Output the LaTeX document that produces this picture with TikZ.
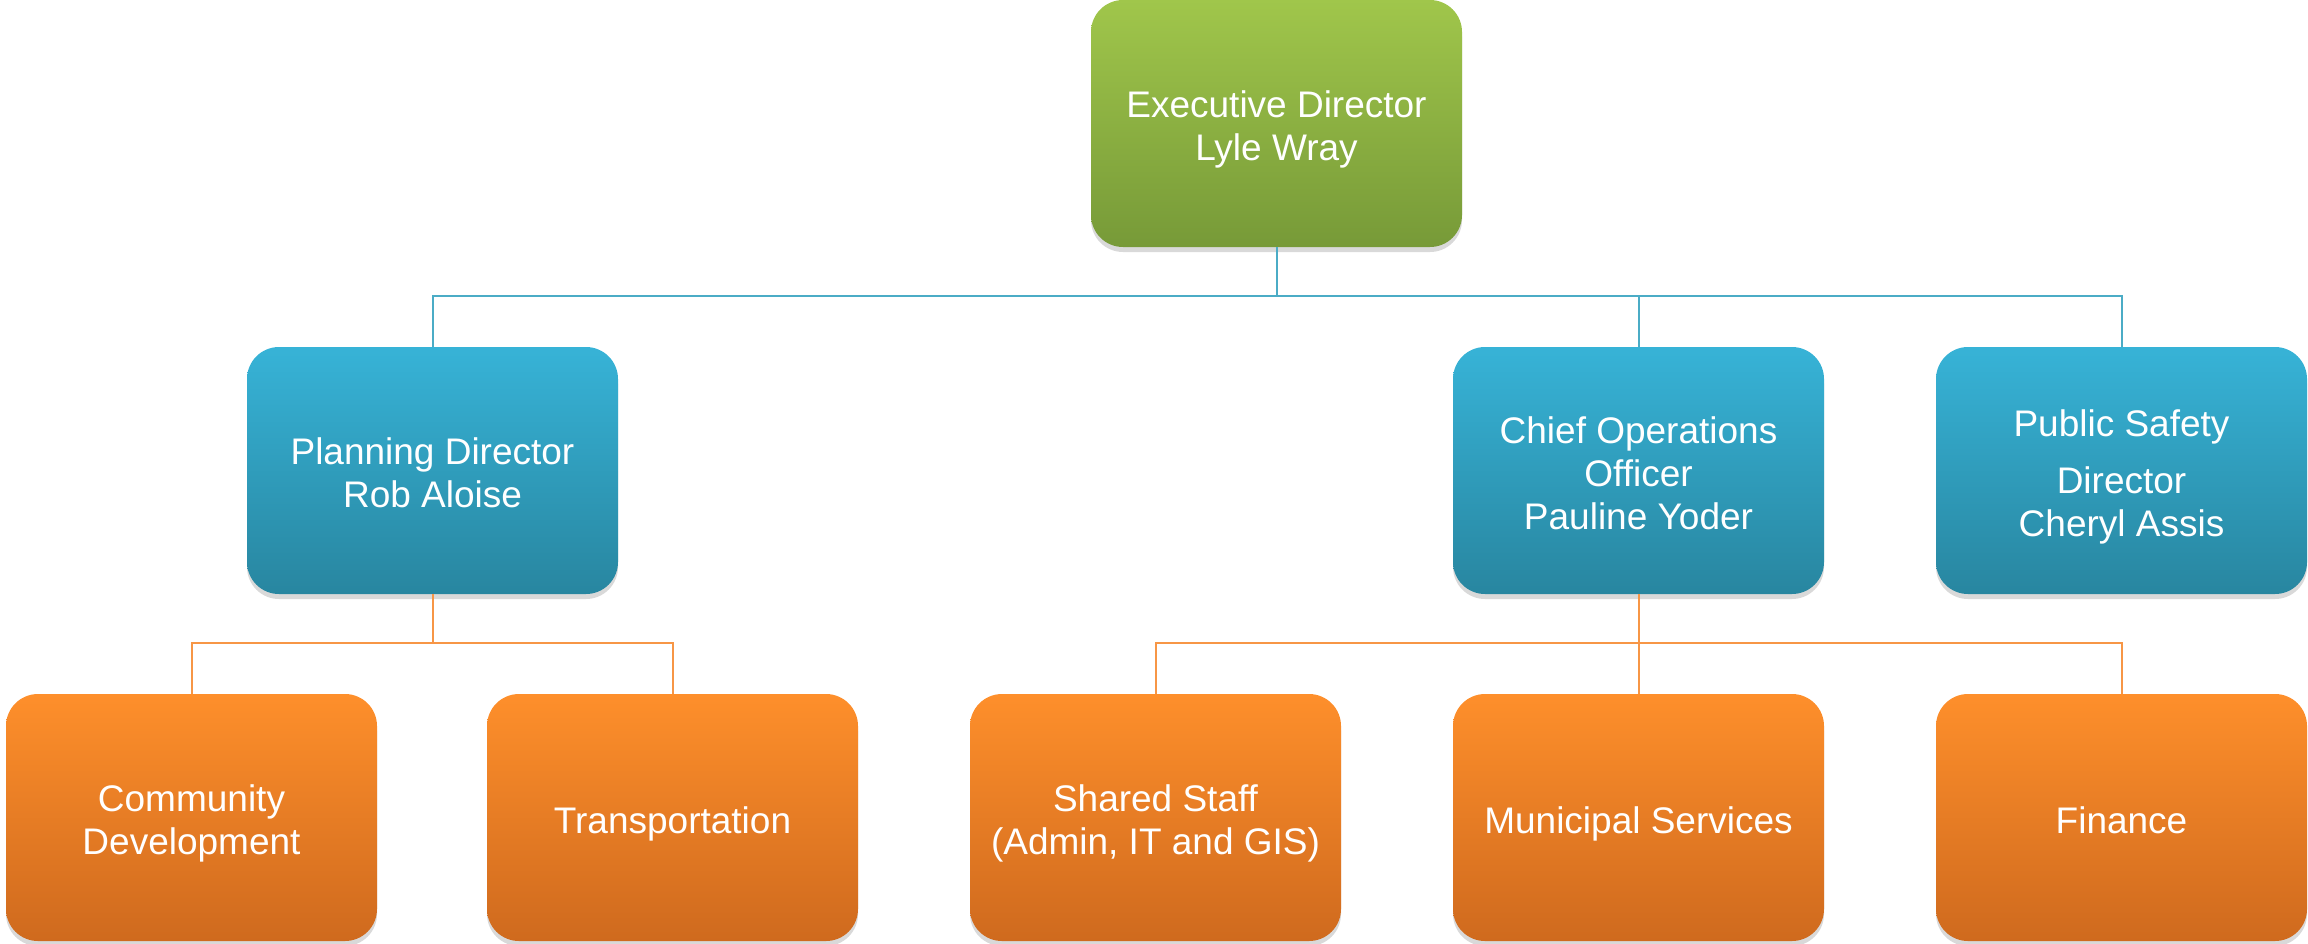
\documentclass[tikz,border=0pt]{standalone}
\usepackage{fontspec}
\setmainfont{Liberation Sans}
\usetikzlibrary{shadows}
\definecolor{gtop}{HTML}{A0C64B}
\definecolor{gbot}{HTML}{779A38}
\definecolor{btop}{HTML}{37B3D7}
\definecolor{bbot}{HTML}{2886A0}
\definecolor{otop}{HTML}{FE8F2B}
\definecolor{obot}{HTML}{CF6A1E}
\definecolor{bline}{HTML}{4BACC6}
\definecolor{oline}{HTML}{F79646}
\newcommand{\boxlines}[1]{\raisebox{0pt}[\dimexpr\height+7pt\relax][\depth]{\begin{tabular}{@{}c@{}}#1\end{tabular}}}
\tikzset{
  box/.style={rectangle, rounded corners=16pt, minimum width=185.5pt, minimum height=123.5pt,
    inner sep=0pt, text=white,
    font=\fontsize{18.5pt}{21.5pt}\selectfont,
    drop shadow={shadow xshift=0pt, shadow yshift=-2.5pt, opacity=0.15, fill=black}},
  gbox/.style={box, top color=gtop, bottom color=gbot},
  bbox/.style={box, top color=btop, bottom color=bbot},
  obox/.style={box, top color=otop, bottom color=obot},
  bl/.style={draw=bline, line width=1pt},
  ol/.style={draw=oline, line width=1pt}
}
\begin{document}
\begin{tikzpicture}[x=0.5pt,y=-0.5pt]
\useasboundingbox (0,0) rectangle (2308,943);
\coordinate (bh) at (0,296);
\coordinate (oh) at (0,643);
\node[gbox] (exec) at (1276.5,123.5) {\boxlines{Executive Director\\Lyle Wray}};
\node[bbox] (plan) at (432.5,470.5) {\boxlines{Planning Director\\Rob Aloise}};
\node[bbox] (coo) at (1638.5,470.5) {\boxlines{Chief Operations\\Officer\\Pauline Yoder}};
\node[bbox] (ps) at (2121.5,470.5) {\boxlines{Public Safety\\[7pt]Director\\Cheryl Assis}};
\node[obox] (cd) at (191.5,817.5) {\boxlines{Community\\Development}};
\node[obox] (tr) at (672.5,817.5) {\boxlines{Transportation}};
\node[obox] (ss) at (1155.5,817.5) {\boxlines{Shared Staff\\(Admin, IT and GIS)}};
\node[obox] (ms) at (1638.5,817.5) {\boxlines{Municipal Services}};
\node[obox] (fi) at (2121.5,817.5) {\boxlines{Finance}};
\draw[bl] (exec.south) -- (exec.south |- bh);
\draw[bl] (plan.north) |- (ps.north |- bh) -- (ps.north);
\draw[bl] (coo.north) -- (coo.north |- bh);
\draw[ol] (plan.south) -- (plan.south |- oh);
\draw[ol] (cd.north) |- (tr.north |- oh) -- (tr.north);
\draw[ol] (coo.south) -- (coo.south |- oh);
\draw[ol] (ss.north) |- (fi.north |- oh) -- (fi.north);
\draw[ol] (ms.north) -- (ms.north |- oh);
\end{tikzpicture}
\end{document}
